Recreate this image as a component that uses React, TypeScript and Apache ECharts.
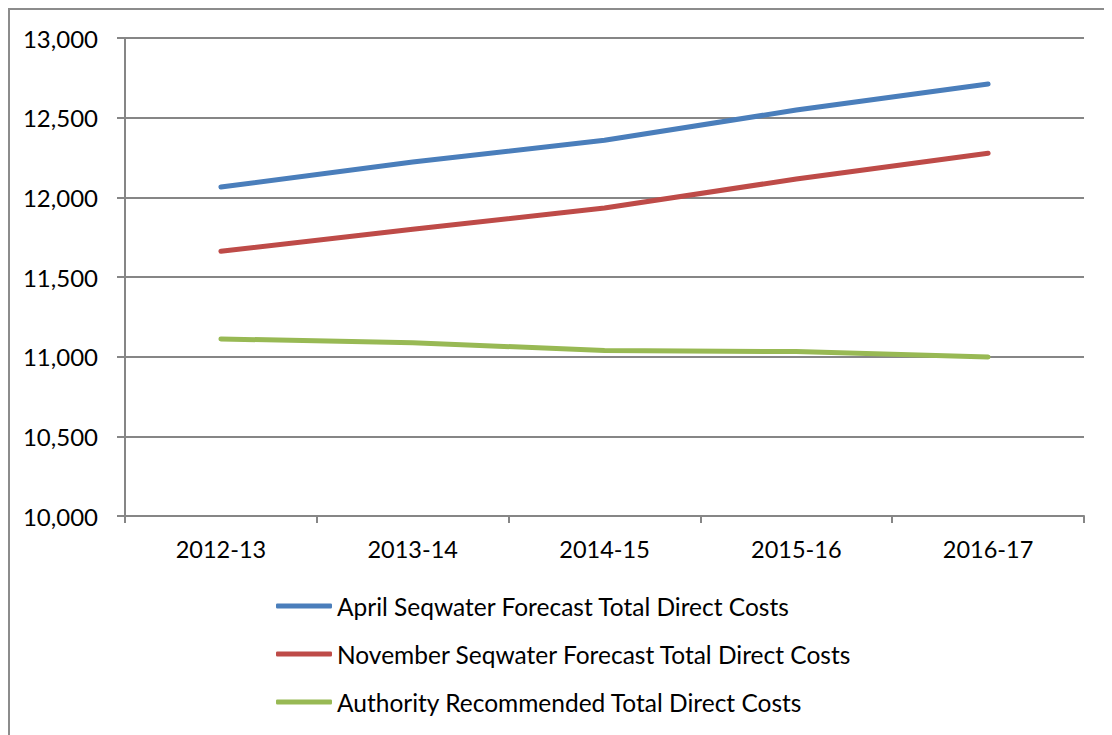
import React, { useEffect, useRef } from "react";
import * as echarts from "echarts";

const categories = ["2012-13", "2013-14", "2014-15", "2015-16", "2016-17"];
const seriesNames = [
  "April Seqwater Forecast Total Direct Costs",
  "November Seqwater Forecast Total Direct Costs",
  "Authority Recommended Total Direct Costs",
];
const aprilValues = [12065, 12222, 12358, 12548, 12711];
const novemberValues = [11662, 11800, 11933, 12115, 12277];
const authorityValues = [11111, 11088, 11038, 11032, 10998];
const colors = ["#4a7ebb", "#be4b48", "#98b954"];
const yTicks = { min: 10000, max: 13000, interval: 500 };

const FONT = "Lato, 'Liberation Sans', sans-serif";

export default function App() {
  const ref = useRef<HTMLDivElement>(null);
  useEffect(() => {
    if (!ref.current) return;
    const chart = echarts.init(ref.current, undefined, { renderer: "svg" });
    const dataSets = [aprilValues, novemberValues, authorityValues];
    chart.setOption({
      animation: false,
      backgroundColor: "#ffffff",
      textStyle: { fontFamily: FONT },
      graphic: [
        {
          type: "rect",
          shape: { x: 1, y: 1, width: 3000, height: 3000 },
          style: { fill: "none", stroke: "#8c8c8c", lineWidth: 2 },
          silent: true,
        },
      ],
      grid: { left: 117, top: 30, right: 28, bottom: 219, containLabel: false },
      xAxis: {
        type: "category",
        data: categories,
        boundaryGap: true,
        axisLine: { show: true, lineStyle: { color: "#868686", width: 2 } },
        axisTick: { show: true, length: 7, interval: 0, lineStyle: { color: "#868686", width: 2 } },
        axisLabel: { color: "#000", fontSize: 23.5, fontFamily: FONT, margin: 21 },
        splitLine: { show: false },
      },
      yAxis: {
        type: "value",
        min: yTicks.min,
        max: yTicks.max,
        interval: yTicks.interval,
        axisLine: { show: true, lineStyle: { color: "#868686", width: 2 } },
        axisTick: { show: true, length: 8, lineStyle: { color: "#868686", width: 2 } },
        axisLabel: {
          color: "#000",
          fontSize: 24,
          fontFamily: FONT,
          margin: 27,
          formatter: (v: number) => v.toLocaleString("en-US"),
        },
        splitLine: { show: true, lineStyle: { color: "#868686", width: 2 } },
      },
      legend: {
        orient: "vertical",
        left: 268,
        top: 585,
        padding: 0,
        itemWidth: 56,
        itemHeight: 5,
        itemGap: 22,
        icon: "roundRect",
        textStyle: { color: "#000", fontSize: 24.5, fontFamily: FONT, lineHeight: 26 },
        data: seriesNames,
      },
      series: seriesNames.map((name, i) => ({
        name,
        type: "line",
        data: dataSets[i],
        symbol: "none",
        color: colors[i],
        lineStyle: { width: 5, color: colors[i], cap: "round", join: "round" },
        itemStyle: { color: colors[i] },
      })),
    });
    return () => chart.dispose();
  }, []);
  return <div ref={ref} style={{ width: 1104, height: 727 }} />;
}
